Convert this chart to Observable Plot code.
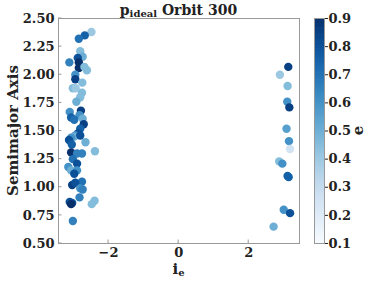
<!DOCTYPE html>
<html>
<head>
<meta charset="utf-8">
<script src="https://cdn.jsdelivr.net/npm/d3@7"></script>
<script src="https://cdn.jsdelivr.net/npm/@observablehq/plot@0.6"></script>
<style>
  html, body { margin: 0; padding: 0; background: white; }
  #wrap { position: relative; width: 374px; height: 281px; }
  #wrap svg { position: absolute; left: 0; top: 0; }
</style>
</head>
<body>
<div id="wrap"></div>
<script>
// ---- data ----
const ie = [
  -2.49, -2.68, -2.85, -2.81, -2.74, -3.12, -2.88, -2.85, -2.85, -2.69,
  -2.62, -2.95, -2.95, -2.75, -3.02, -2.94, -2.76, -2.81, -2.92, -3.11,
  -2.79, -2.83, -3.07, -2.98, -2.74, -2.71, -2.81, -2.87, -2.95, -2.98,
  -3.07, -3.13, -2.66, -2.81, -3.05, -3.07, -2.90, -2.76, -2.39, -3.02,
  -2.90, -3.15, -3.07, -2.90, -2.98, -2.76, -3.04, -2.95, -2.81, -2.74,
  -2.83, -3.11, -3.04, -3.07, -2.40, -2.48, -3.02,
  3.13, 2.89, 3.11, 3.10, 3.16, 3.08, 3.15, 3.18, 2.87, 2.96,
  3.11, 3.14, 3.00, 3.18, 2.71
];
const semimajor = [
  2.38, 2.35, 2.32, 2.21, 2.16, 2.11, 2.15, 2.11, 2.06, 2.07,
  2.04, 2.00, 1.96, 1.93, 1.88, 1.88, 1.84, 1.80, 1.76, 1.67,
  1.68, 1.64, 1.62, 1.60, 1.61, 1.56, 1.52, 1.48, 1.46, 1.45,
  1.44, 1.42, 1.40, 1.46, 1.38, 1.31, 1.30, 1.30, 1.32, 1.25,
  1.21, 1.18, 1.15, 1.15, 1.12, 1.05, 1.02, 1.04, 0.99, 0.98,
  0.91, 0.87, 0.86, 0.85, 0.88, 0.85, 0.70,
  2.07, 2.00, 1.90, 1.76, 1.71, 1.52, 1.41, 1.34, 1.23, 1.21,
  1.10, 1.09, 0.80, 0.77, 0.65
];
const ecc = [
  0.40, 0.75, 0.70, 0.45, 0.50, 0.65, 0.80, 0.90, 0.90, 0.45,
  0.45, 0.60, 0.85, 0.45, 0.45, 0.40, 0.45, 0.45, 0.50, 0.60,
  0.85, 0.60, 0.75, 0.70, 0.50, 0.85, 0.75, 0.80, 0.60, 0.50,
  0.60, 0.80, 0.50, 0.80, 0.75, 0.90, 0.65, 0.65, 0.45, 0.70,
  0.80, 0.60, 0.50, 0.60, 0.80, 0.70, 0.85, 0.80, 0.60, 0.65,
  0.65, 0.80, 0.80, 0.90, 0.45, 0.45, 0.65,
  0.85, 0.40, 0.45, 0.60, 0.85, 0.55, 0.60, 0.25, 0.45, 0.60,
  0.75, 0.75, 0.60, 0.80, 0.50
];
const xTicks = [-2, 0, 2];
const yTicks = [0.5, 0.75, 1.0, 1.25, 1.5, 1.75, 2.0, 2.25, 2.5];
const cTicks = [0.1, 0.2, 0.3, 0.4, 0.5, 0.6, 0.7, 0.8, 0.9];
const xDomain = [-3.43, 3.45];
const yDomain = [0.5, 2.5];
const cDomain = [0.1, 0.9];
const titleMain = "p", titleSub = "ideal", titleRest = " Orbit 300";
const xLabelMain = "i", xLabelSub = "e";
const yLabel = "Semimajor Axis";
const cLabel = "e";

const points = ie.map((x, i) => ({x, y: semimajor[i], e: ecc[i]}));

const FONT = "DejaVu Serif";
const TXT = "#222";
const SPINE = "#999";
const minusFmt = d => (d < 0 ? "\u2212" + (-d) : String(d));

const main = Plot.plot({
  width: 374, height: 281,
  marginLeft: 58, marginRight: 75, marginTop: 18, marginBottom: 38,
  style: {fontFamily: FONT, fontWeight: "bold", fontSize: "13px", color: TXT, background: "transparent", overflow: "visible"},
  x: {domain: xDomain, ticks: xTicks, tickFormat: minusFmt, label: null, tickSize: 0, tickPadding: 4},
  y: {domain: yDomain, ticks: yTicks, tickFormat: d3.format(".2f"), label: null, tickSize: 0, tickPadding: 4},
  color: {type: "linear", scheme: "blues", domain: cDomain},
  marks: [
    Plot.dot(points, {x: "x", y: "y", fill: "e", r: 4.2}),
    Plot.frame({stroke: SPINE})
  ]
});

const cbBands = d3.range(0, 160).map(i => cDomain[0] + i * (cDomain[1] - cDomain[0]) / 160);
const cbStep = (cDomain[1] - cDomain[0]) / 160;
const cbar = Plot.plot({
  width: 374, height: 281,
  marginLeft: 314, marginRight: 50, marginTop: 18, marginBottom: 38,
  style: {fontFamily: FONT, fontWeight: "bold", fontSize: "13px", color: TXT, background: "transparent", overflow: "visible"},
  x: {domain: [0, 1], axis: null},
  y: {domain: cDomain, ticks: cTicks, tickFormat: d3.format(".1f"), axis: "right", label: null, tickSize: 3, tickPadding: 1},
  color: {type: "linear", scheme: "blues", domain: cDomain},
  marks: [
    Plot.rectY(cbBands, {x1: 0, x2: 1, y1: d => d, y2: d => Math.min(cDomain[1], d + cbStep * 1.5), fill: d => d}),
    Plot.frame({stroke: SPINE})
  ]
});

const wrap = document.getElementById("wrap");
wrap.appendChild(main);
wrap.appendChild(cbar);

// inward tick marks drawn from the library's own scales
const sx = main.scale("x"), sy = main.scale("y");
const svg = d3.select(main);
const tickG = svg.append("g").attr("stroke", SPINE).attr("stroke-width", 1);
xTicks.forEach(v => {
  const px = sx.apply(v), py = sy.apply(yDomain[0]);
  tickG.append("line").attr("x1", px).attr("x2", px).attr("y1", py).attr("y2", py - 3.5);
});
yTicks.forEach(v => {
  const px = sx.apply(xDomain[0]), py = sy.apply(v);
  tickG.append("line").attr("x1", px).attr("x2", px + 3.5).attr("y1", py).attr("y2", py);
});

// titles and axis labels as real text
const t = svg.append("text")
  .attr("x", 178.5).attr("y", 15).attr("text-anchor", "middle")
  .attr("font-family", FONT).attr("font-weight", "bold").attr("fill", TXT);
t.append("tspan").attr("font-size", 14).text(titleMain);
t.append("tspan").attr("font-size", 10).attr("dy", 2).text(titleSub);
t.append("tspan").attr("font-size", 14).attr("dy", -2).text(titleRest);

const xl = svg.append("text")
  .attr("x", 178.5).attr("y", 273.5).attr("text-anchor", "middle")
  .attr("font-family", FONT).attr("font-weight", "bold").attr("fill", TXT);
xl.append("tspan").attr("font-size", 15).text(xLabelMain);
xl.append("tspan").attr("font-size", 10).attr("dy", 2.5).text(xLabelSub);

svg.append("text")
  .attr("transform", "translate(18,130.5) rotate(-90)")
  .attr("text-anchor", "middle")
  .attr("font-family", FONT).attr("font-weight", "bold").attr("font-size", 15).attr("fill", TXT)
  .text(yLabel);

d3.select(cbar).append("text")
  .attr("transform", "translate(363,130.5) rotate(-90)")
  .attr("text-anchor", "middle")
  .attr("font-family", FONT).attr("font-weight", "bold").attr("font-size", 15).attr("fill", TXT)
  .text(cLabel);
</script>
</body>
</html>
